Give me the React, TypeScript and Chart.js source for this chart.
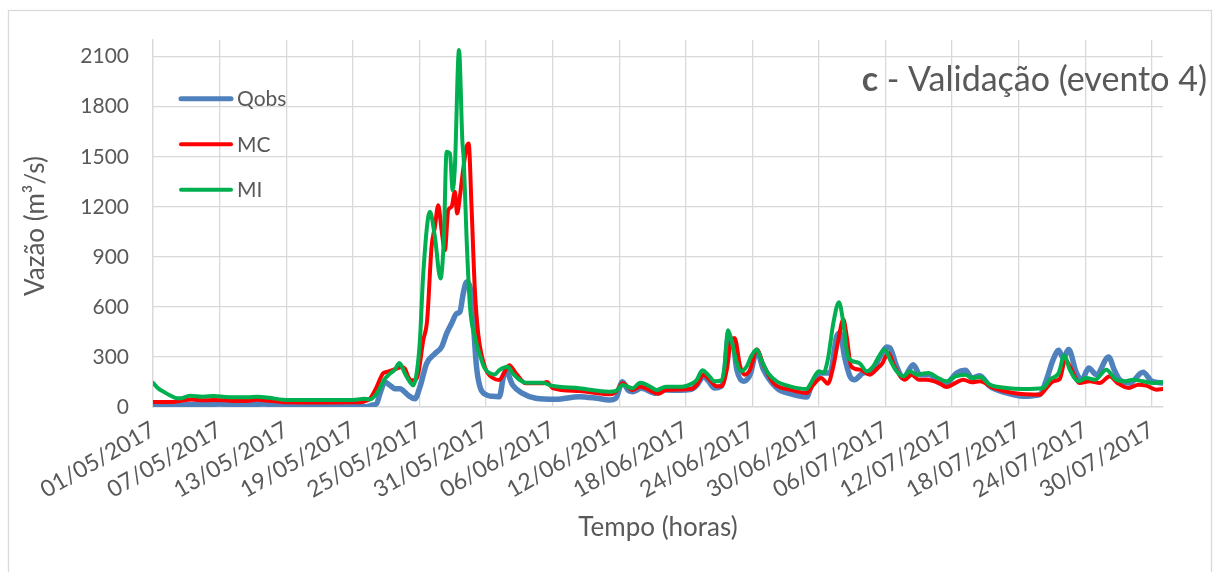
import React, { useEffect, useRef } from "react";
import { Chart, registerables } from "chart.js";

Chart.register(...registerables);

// ---- data (x = days since 01/05/2017 00:00, y = discharge m³/s) ----
const xTickDays = [0, 6, 12, 18, 24, 30, 36, 42, 48, 54, 60, 66, 72, 78, 84, 90];
const xTickLabels = [
  "01/05/2017", "07/05/2017", "13/05/2017", "19/05/2017", "25/05/2017", "31/05/2017",
  "06/06/2017", "12/06/2017", "18/06/2017", "24/06/2017", "30/06/2017", "06/07/2017",
  "12/07/2017", "18/07/2017", "24/07/2017", "30/07/2017",
];
const yTicks = [0, 300, 600, 900, 1200, 1500, 1800, 2100];

const qobsPoints: [number, number][] = [
  [0, 8], [1, 8], [2, 10], [3, 14], [4, 16], [5, 15], [6, 18], [7, 16], [8, 14], [9, 16],
  [10, 18], [11, 12], [12, 10], [14, 8], [16, 7], [18, 6], [19.2, 2], [19.8, 12], [20.15, 20],
  [20.45, 80], [20.9, 150], [21.35, 130], [21.8, 110], [22.25, 110], [22.6, 95], [23.0, 70],
  [23.6, 50], [24.05, 120], [24.65, 260], [25.4, 320], [26.0, 360], [26.45, 440], [26.9, 500],
  [27.35, 560], [27.65, 570], [27.95, 680], [28.26, 750], [28.56, 720], [28.86, 500],
  [29.15, 240], [29.46, 121], [30.06, 72], [30.6, 64], [31.2, 62], [31.6, 191], [31.8, 215],
  [32.4, 132], [33.3, 82], [34.5, 52], [36.3, 46], [38.4, 62], [40, 52], [41.1, 42],
  [41.7, 52], [42.3, 152], [42.8, 100], [43.2, 92], [44.0, 112], [45.3, 82], [46.2, 102],
  [47.5, 100], [48.4, 104], [49.0, 130], [49.6, 184], [50.0, 160], [50.6, 114], [51.2, 124],
  [51.5, 200], [51.8, 404], [52.2, 404], [52.6, 224], [53.2, 154], [53.8, 194], [54.4, 334],
  [55.0, 224], [56.2, 114], [57.4, 80], [58.9, 60], [59.3, 124], [60.2, 204], [61.0, 204],
  [61.6, 424], [61.9, 444], [62.3, 304], [62.8, 184], [63.2, 164], [64.0, 204], [64.7, 214],
  [65.5, 300], [66.1, 360], [66.4, 354], [67.0, 244], [67.6, 174], [68.5, 254], [69.1, 194],
  [70.0, 194], [70.9, 144], [71.5, 144], [72.4, 204], [73.2, 220], [73.8, 174], [74.5, 188],
  [75.4, 124], [76.9, 84], [78.4, 64], [79.9, 74], [80.5, 164], [81.1, 284], [81.6, 340],
  [82.0, 294], [82.5, 344], [83.2, 204], [83.7, 164], [84.3, 234], [85.0, 194], [86.1, 300],
  [86.6, 224], [87.1, 164], [88.0, 144], [89.2, 208], [90.0, 154], [91.0, 144],
];

const mcPoints: [number, number][] = [
  [0, 30], [1, 30], [2, 32], [3, 42], [3.5, 45], [4.5, 40], [5.5, 42], [6.5, 40], [7.5, 36],
  [8.5, 36], [9.3, 44], [10, 40], [11, 35], [12, 28], [14, 27], [16, 27], [18, 28], [19, 32],
  [19.55, 50], [20.15, 120], [20.7, 200], [21.05, 210], [21.5, 220], [21.95, 230], [22.4, 240],
  [22.7, 230], [23.0, 180], [23.3, 160], [23.6, 160], [23.9, 200], [24.35, 400], [24.7, 520],
  [25.1, 960], [25.4, 1080], [25.7, 1210], [26.0, 1060], [26.3, 940], [26.6, 1180], [26.9, 1200],
  [27.2, 1290], [27.4, 1160], [27.65, 1260], [27.9, 1400], [28.26, 1560], [28.44, 1580],
  [28.7, 1200], [29.0, 700], [29.3, 440], [29.9, 240], [30.66, 172], [31.2, 162], [31.6, 200],
  [32.1, 251], [32.7, 202], [33.6, 142], [35.1, 142], [35.5, 150], [36.0, 114], [38.4, 96],
  [41.1, 76], [41.7, 90], [42.3, 142], [43.2, 102], [43.9, 122], [45.6, 80], [46.2, 102],
  [48.6, 110], [49.0, 134], [49.6, 194], [50.0, 174], [50.8, 124], [51.2, 124], [51.7, 224],
  [52.1, 404], [52.4, 414], [52.9, 244], [53.3, 194], [53.8, 224], [54.4, 344], [55.0, 254],
  [55.9, 144], [57.4, 104], [58.9, 84], [59.5, 134], [60.2, 174], [60.8, 140], [61.3, 244],
  [61.7, 384], [62.2, 524], [62.5, 424], [62.9, 244], [63.7, 224], [64.6, 194], [65.3, 234],
  [65.7, 260], [66.25, 324], [66.8, 244], [67.75, 164], [68.35, 194], [69.0, 164], [69.7, 164],
  [70.8, 144], [71.5, 120], [72.4, 148], [73.0, 164], [73.8, 148], [74.5, 154], [75.7, 114],
  [77.5, 84], [79.9, 74], [80.5, 114], [81.1, 154], [81.7, 168], [82.2, 284], [82.6, 244],
  [83.5, 144], [84.4, 154], [85.3, 144], [86.2, 184], [86.9, 144], [87.9, 114], [88.8, 134],
  [89.5, 128], [90.4, 104], [91.0, 108],
];

const miPoints: [number, number][] = [
  [0, 145], [0.5, 110], [1, 90], [1.5, 70], [2, 55], [2.5, 52], [3.3, 68], [4.5, 62], [5.5, 66],
  [6.5, 60], [7.5, 58], [8.5, 58], [9.4, 62], [10.5, 55], [11.7, 44], [14, 42], [16, 42],
  [18.3, 44], [19.0, 50], [19.55, 45], [20.15, 80], [20.9, 170], [21.35, 200], [21.8, 225],
  [22.2, 264], [22.7, 200], [23.15, 150], [23.45, 130], [23.75, 200], [24.05, 400], [24.35, 800],
  [24.95, 1170], [25.4, 1020], [25.9, 770], [26.2, 1000], [26.45, 1530], [26.75, 1520],
  [27.0, 1300], [27.2, 1440], [27.57, 2140], [27.87, 1600], [28.0, 1480], [28.26, 1000],
  [28.56, 600], [29.0, 420], [29.5, 300], [29.9, 230], [30.36, 202], [30.8, 195], [31.2, 221],
  [31.98, 241], [32.4, 202], [33.6, 146], [35.1, 146], [35.9, 128], [38.4, 112], [41.1, 92],
  [41.7, 96], [42.3, 132], [43.2, 112], [43.9, 146], [44.7, 126], [45.4, 102], [46.2, 122],
  [47.7, 122], [48.6, 142], [49.0, 164], [49.5, 220], [50.0, 194], [50.6, 154], [51.2, 160],
  [51.5, 244], [51.8, 460], [52.1, 404], [52.6, 264], [53.0, 214], [53.5, 244], [53.9, 304],
  [54.4, 344], [54.8, 284], [55.4, 204], [56.2, 154], [57.4, 124], [58.9, 108], [59.2, 134],
  [60.0, 214], [60.4, 204], [60.8, 284], [61.3, 504], [61.8, 628], [62.2, 504], [62.6, 304],
  [63.1, 274], [63.7, 260], [64.3, 214], [64.9, 244], [65.5, 314], [65.95, 344], [66.4, 284],
  [67.0, 214], [67.6, 184], [68.2, 214], [68.8, 194], [69.85, 204], [70.75, 174], [71.5, 154],
  [72.3, 184], [73.2, 194], [73.8, 174], [74.5, 180], [75.4, 134], [76.9, 114], [78.4, 108],
  [80.2, 114], [80.8, 164], [81.6, 204], [82.1, 308], [82.6, 224], [83.4, 154], [84.1, 174],
  [84.9, 164], [85.9, 224], [86.7, 168], [87.6, 154], [88.3, 164], [89.2, 154], [90.1, 144],
  [91.0, 148],
];

const seriesNames = ["Qobs", "MC", "MI"];
const seriesColors = ["#4F81BD", "#FF0000", "#00B050"];
const seriesWidths = [5.5, 4, 4];

const FONT = 'Lato, "Open Sans", "DejaVu Sans", sans-serif';
const TEXT = "#595959";
const GRID = "#D9D9D9";

const overlayPlugin = {
  id: "overlay",
  beforeDraw(chart: any) {
    const ctx = chart.ctx as CanvasRenderingContext2D;
    ctx.save();
    ctx.fillStyle = "#ffffff";
    ctx.fillRect(0, 0, chart.width, chart.height);
    ctx.strokeStyle = GRID;
    ctx.lineWidth = 1.3;
    ctx.strokeRect(8.5, 10.5, 1203, 580);
    ctx.restore();
  },
  afterDraw(chart: any) {
    const ctx = chart.ctx as CanvasRenderingContext2D;
    ctx.save();
    // legend
    const ys = [98.7, 144.3, 189.7];
    seriesNames.forEach((name, i) => {
      ctx.beginPath();
      ctx.strokeStyle = seriesColors[i];
      ctx.lineWidth = i === 0 ? 5 : 4;
      ctx.lineCap = "round";
      ctx.moveTo(181, ys[i]);
      ctx.lineTo(231, ys[i]);
      ctx.stroke();
      ctx.fillStyle = TEXT;
      ctx.font = `21px ${FONT}`;
      ctx.textBaseline = "middle";
      ctx.textAlign = "left";
      ctx.fillText(name, 237, ys[i] + 1);
    });
    // title
    ctx.textBaseline = "alphabetic";
    ctx.font = `34px ${FONT}`;
    const rest = " - Validação (evento 4)";
    const wRest = ctx.measureText(rest).width;
    ctx.font = `bold 34px ${FONT}`;
    const wC = ctx.measureText("c").width;
    const right = 1207;
    ctx.fillStyle = TEXT;
    ctx.textAlign = "left";
    ctx.fillText("c", right - wRest - wC, 91);
    ctx.font = `34px ${FONT}`;
    ctx.fillText(rest, right - wRest, 91);
    // axis titles
    ctx.font = `26px ${FONT}`;
    ctx.textAlign = "center";
    ctx.textBaseline = "middle";
    ctx.fillText("Tempo (horas)", 658, 528);
    ctx.translate(36, 226);
    ctx.rotate(-Math.PI / 2);
    ctx.fillText("Vazão (m³/s)", 0, 0);
    ctx.restore();
  },
};

export default function App() {
  const ref = useRef<HTMLCanvasElement | null>(null);
  useEffect(() => {
    document.body.style.margin = "0";
    const canvas = ref.current!;
    const points = [qobsPoints, mcPoints, miPoints];
    const chart = new Chart(canvas, {
      type: "line",
      data: {
        datasets: seriesNames.map((name, i) => ({
          label: name,
          data: points[i].map(([x, y]) => ({ x, y })),
          borderColor: seriesColors[i],
          backgroundColor: seriesColors[i],
          borderWidth: seriesWidths[i],
          pointRadius: 0,
          fill: false,
          tension: 0.35,
          cubicInterpolationMode: "monotone" as const,
          borderJoinStyle: "round" as const,
          borderCapStyle: "round" as const,
          order: 3 - i,
        })),
      },
      options: {
        animation: false,
        responsive: false,
        layout: { padding: { left: 20, right: 58, top: 40, bottom: 0 } },
        plugins: { legend: { display: false }, tooltip: { enabled: false } },
        scales: {
          x: {
            type: "linear",
            min: 0,
            max: 91,
            afterBuildTicks: (scale: any) => {
              scale.ticks = xTickDays.map((v) => ({ value: v }));
            },
            afterFit: (scale: any) => {
              scale.height = 165;
            },
            grid: { color: GRID, lineWidth: 1.3, drawTicks: false },
            border: { color: GRID, width: 1.5 },
            ticks: {
              autoSkip: false,
              maxRotation: 30,
              minRotation: 30,
              padding: 9,
              color: TEXT,
              font: { family: FONT, size: 23 },
              callback: (value: any) => {
                const idx = xTickDays.indexOf(Number(value));
                return idx >= 0 ? xTickLabels[idx] : "";
              },
            },
          },
          y: {
            type: "linear",
            min: 0,
            max: 2200,
            afterBuildTicks: (scale: any) => {
              scale.ticks = yTicks.map((v) => ({ value: v }));
            },
            afterFit: (scale: any) => {
              scale.width = 133;
            },
            grid: { color: GRID, lineWidth: 1.3, drawTicks: false },
            border: { color: GRID, width: 1.3 },
            ticks: {
              padding: 24,
              color: TEXT,
              font: { family: FONT, size: 21 },
              callback: (value: any) => String(value),
            },
          },
        },
      },
      plugins: [overlayPlugin],
    });
    return () => chart.destroy();
  }, []);
  return (
    <canvas
      ref={ref}
      width={1221}
      height={572}
      style={{ display: "block", width: 1221, height: 572 }}
    />
  );
}
